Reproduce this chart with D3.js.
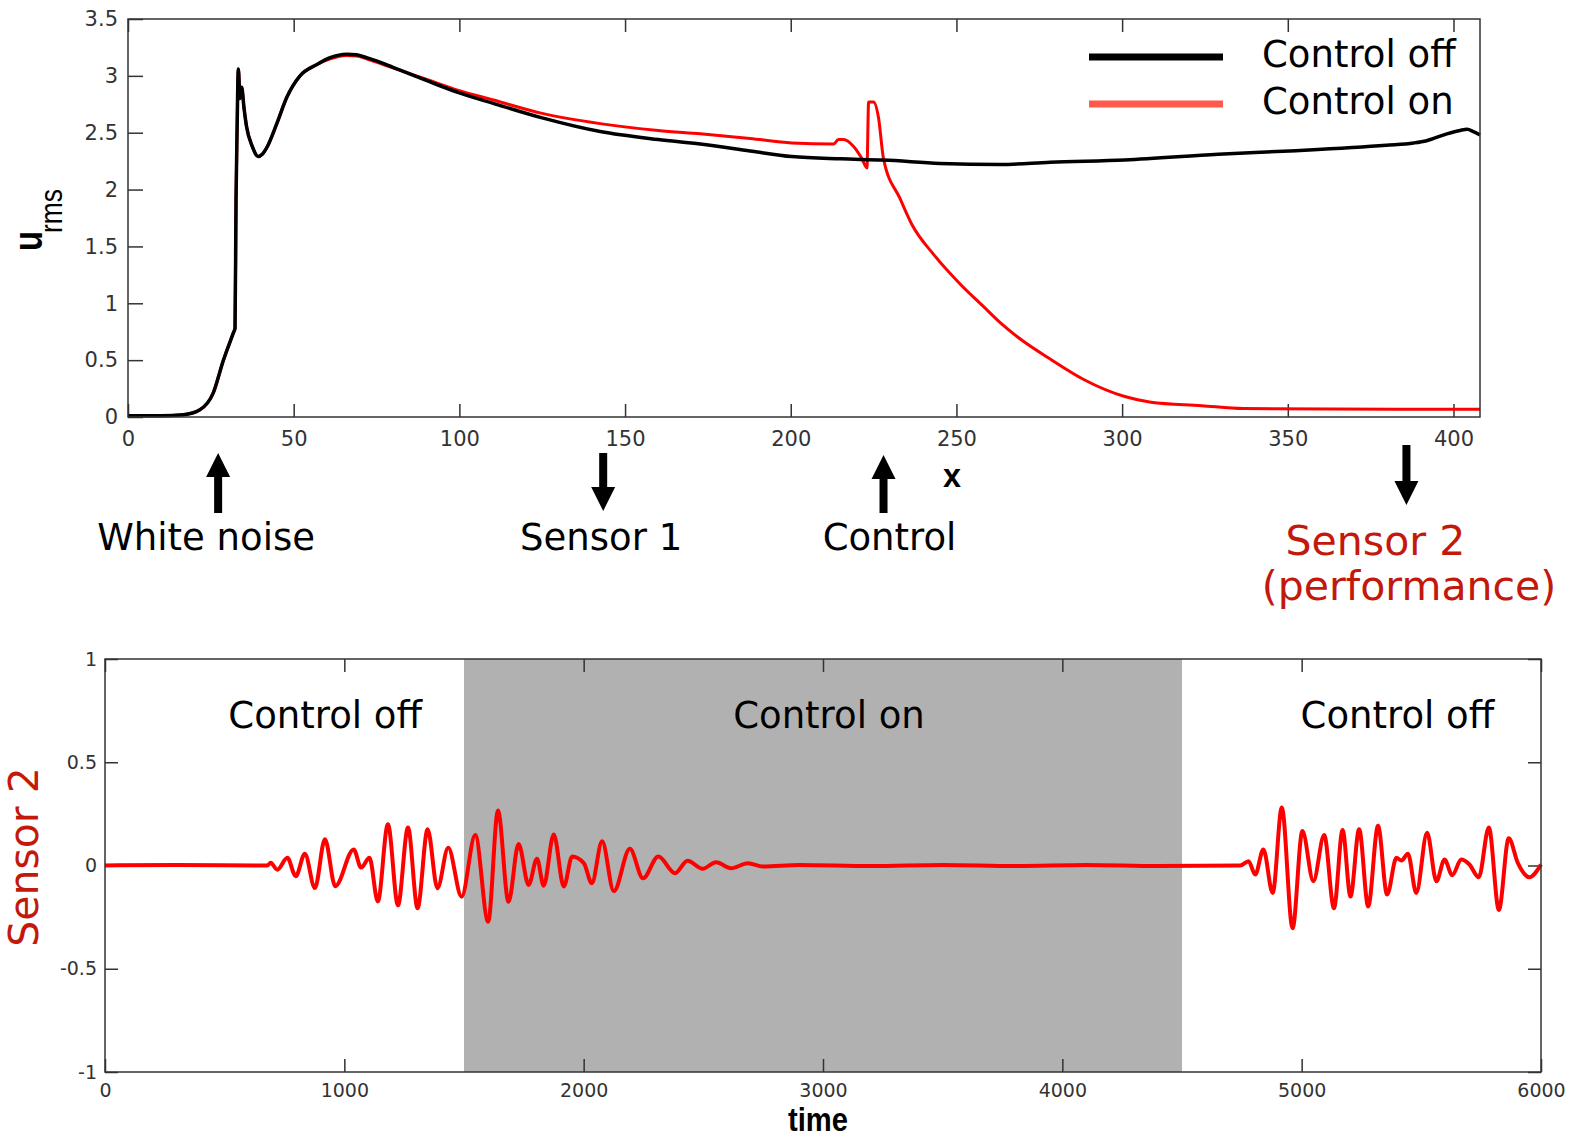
<!DOCTYPE html>
<html>
<head>
<meta charset="utf-8">
<script src="https://cdn.jsdelivr.net/npm/d3@7"></script>
<style>
	body { margin:0; background:#fff; }
	svg { display:block; }
</style>
</head>
<body>
<script>
// data //{{{
// top panel: u_rms along x, [x, u_rms]
var controlOff = [[0,0.01],[10,0.01],[16.7,0.02],[21.7,0.064],[25.7,0.21],[28.8,0.5],[31.8,0.74],[32.3,0.78],[32.6,1.91],[32.9,2.49],[33.3,3.06],[33.8,2.8],[34.3,2.9],[35.0,2.72],[35.8,2.55],[37.5,2.38],[39.3,2.29],[40.5,2.31],[41.9,2.37],[44.9,2.58],[47.9,2.81],[51.9,3.0],[57,3.1],[61,3.16],[66,3.19],[69,3.185],[72,3.16],[77,3.11],[82.1,3.05],[90,2.96],[100,2.85],[110,2.76],[125,2.63],[142.5,2.51],[160,2.44],[172.7,2.4],[187.7,2.34],[200.3,2.29],[215,2.27],[228,2.26],[245,2.23],[263.2,2.22],[278.3,2.24],[300.8,2.26],[329,2.31],[350.6,2.34],[379.7,2.39],[388,2.41],[391.9,2.43],[398,2.49],[402,2.52],[404.1,2.53],[406,2.51],[408,2.48]];
var controlOn = [[0,0.01],[10,0.01],[16.7,0.02],[21.7,0.064],[25.7,0.21],[28.8,0.5],[31.8,0.74],[32.3,0.78],[32.6,1.91],[32.9,2.49],[33.3,3.06],[33.8,2.8],[34.3,2.9],[35.0,2.72],[35.8,2.55],[37.5,2.38],[39.3,2.29],[40.5,2.31],[41.9,2.37],[44.9,2.58],[47.9,2.81],[51.9,3.0],[57,3.1],[61,3.15],[66,3.18],[69,3.175],[72,3.15],[77,3.1],[82.1,3.05],[90,2.97],[100,2.87],[110,2.79],[125,2.67],[142.5,2.58],[160,2.52],[172.7,2.49],[187.7,2.45],[200.3,2.41],[212.9,2.40],[214.4,2.44],[216,2.44],[218.9,2.38],[221.5,2.27],[223,2.19],[223.5,2.77],[225,2.77],[226.5,2.63],[228,2.27],[233,1.92],[236.6,1.69],[243.1,1.43],[251.1,1.17],[258.2,0.97],[263.2,0.83],[270,0.67],[278.3,0.51],[288.4,0.33],[300.8,0.18],[308.7,0.13],[324,0.1],[336.6,0.074],[408,0.068]];
var topXTicks = [0,50,100,150,200,250,300,350,400];
var topYTicks = [0,0.5,1,1.5,2,2.5,3,3.5];
var seriesNames = ["Control off", "Control on"];

// arrows under the top panel: position along x
var markerNames = ["White noise", "Sensor 1", "Control", "Sensor 2"];
var markerX = [27.2, 143.4, 228, 385.8];

// bottom panel: sensor 2 signal, [time, value]
var sensor2 = [[0,0],[300,0.003],[678,0],[692,0.013],[720,-0.02],[762,0.037],[797,-0.052],[835,0.057],[877,-0.109],[919,0.127],[962,-0.10],[1039,0.078],[1070,-0.01],[1105,0.037],[1140,-0.174],[1182,0.2],[1224,-0.193],[1266,0.184],[1306,-0.207],[1348,0.176],[1389,-0.11],[1434,0.086],[1490,-0.151],[1547,0.148],[1601,-0.272],[1642,0.266],[1686,-0.176],[1728,0.104],[1770,-0.094],[1805,0.033],[1833,-0.098],[1875,0.15],[1917,-0.102],[1952,0.044],[2001,0.011],[2034,-0.086],[2077,0.117],[2126,-0.124],[2193,0.081],[2248,-0.062],[2312,0.044],[2382,-0.037],[2434,0.023],[2497,-0.016],[2553,0.016],[2616,-0.013],[2686,0.011],[2749,-0.005],[2900,0.002],[3200,-0.003],[3500,0.002],[3800,-0.003],[4100,0.002],[4400,-0.003],[4743,0],[4778,0.021],[4806,-0.044],[4840,0.078],[4879,-0.133],[4917,0.281],[4962,-0.304],[5003,0.167],[5049,-0.076],[5094,0.148],[5135,-0.207],[5171,0.172],[5204,-0.15],[5240,0.176],[5278,-0.198],[5319,0.192],[5357,-0.141],[5396,0.037],[5417,0.024],[5444,0.057],[5479,-0.133],[5524,0.159],[5563,-0.076],[5597,0.029],[5629,-0.047],[5667,0.029],[5701,0.005],[5740,-0.057],[5782,0.184],[5824,-0.215],[5865,0.132],[5903,0.013],[5951,-0.057],[6000,0.005]];
var controlOnPeriod = [1500, 4500];
var phaseNames = ["Control off", "Control on", "Control off"];
var phaseTime = [920, 3025, 5400];
var botXTicks = [0,1000,2000,3000,4000,5000,6000];
var botYTicks = [-1,-0.5,0,0.5,1];
//}}}

var W = 1577, H = 1141;
var red = "#ff0000", darkred = "#c3190c", ink = "#333";
var svg = d3.select('body').append('svg').attr("width", W).attr("height", H);

var p1 = {left:128, top:19, right:1480, bottom:417};
var p2 = {left:105, top:659, right:1541, bottom:1072};
var fmt = d => String(d);

function style_axis(g, size) {
	g.select('.domain').remove();
	g.attr("font-family", "DejaVu Sans, sans-serif").attr("font-size", size).attr("color", ink);
	g.selectAll('.tick line').attr("stroke-width", 1.5);
}

// top panel //{{{
var x1 = d3.scaleLinear().domain([0, 408]).range([p1.left, p1.right]);
var y1 = d3.scaleLinear().domain([0, 3.5]).range([p1.bottom, p1.top]);

svg.append("g").attr("transform", "translate(0,"+p1.bottom+")")
	.call(d3.axisBottom(x1).tickValues(topXTicks).tickSize(-13).tickPadding(14).tickFormat(fmt))
	.call(style_axis, 21);
svg.append("g").attr("transform", "translate(0,"+p1.top+")")
	.call(d3.axisTop(x1).tickValues(topXTicks).tickSize(-13).tickFormat(""))
	.call(style_axis, 21);
svg.append("g").attr("transform", "translate("+p1.left+",0)")
	.call(d3.axisLeft(y1).tickValues(topYTicks).tickSize(-15).tickPadding(10).tickFormat(fmt))
	.call(style_axis, 21);

var line1 = d3.line().x(d => x1(d[0])).y(d => y1(d[1])).curve(d3.curveMonotoneX);
svg.append("path").datum(controlOn).attr("d", line1)
	.attr("fill", "none").attr("stroke", red).attr("stroke-width", 3);
svg.append("path").datum(controlOff).attr("d", line1)
	.attr("fill", "none").attr("stroke", "#000").attr("stroke-width", 3.5);

svg.append("rect").attr("x", p1.left).attr("y", p1.top)
	.attr("width", p1.right-p1.left).attr("height", p1.bottom-p1.top)
	.attr("fill", "none").attr("stroke", ink).attr("stroke-width", 1.5);

// legend
var legColors = ["#000", "#ff5a4a"];
seriesNames.forEach(function(name, i) {
	var yy = 57 + i*47;
	svg.append("line").attr("x1", 1089).attr("x2", 1223).attr("y1", yy).attr("y2", yy)
		.attr("stroke", legColors[i]).attr("stroke-width", 7);
	svg.append("text").attr("x", 1262).attr("y", yy+10).text(name)
		.attr("font-family", "DejaVu Sans, sans-serif").attr("font-size", 37).attr("fill", "#000");
});

// axis labels, narrow bold
svg.append("text").attr("transform", "translate(42,251) rotate(-90)")
	.attr("font-family", "Liberation Sans, sans-serif").attr("font-size", 40).attr("font-weight", "bold")
	.attr("textLength", 20).attr("lengthAdjust", "spacingAndGlyphs")
	.text("u");
svg.append("text").attr("transform", "translate(62,233) rotate(-90)")
	.attr("font-family", "Liberation Sans, sans-serif").attr("font-size", 31)
	.attr("textLength", 44).attr("lengthAdjust", "spacingAndGlyphs")
	.text("rms");
svg.append("text").attr("x", 952).attr("y", 487).attr("text-anchor", "middle")
	.attr("font-family", "Liberation Sans, sans-serif").attr("font-size", 34).attr("font-weight", "bold")
	.attr("textLength", 18).attr("lengthAdjust", "spacingAndGlyphs")
	.text("x");
//}}}
// arrows and markers //{{{
function arrow(x, yTail, yTip) {
	var s = yTip < yTail ? 1 : -1;   // up or down
	var hb = yTip + s*24;
	return "M"+(x-4)+","+yTail+" L"+(x-4)+","+hb+" L"+(x-12)+","+hb+" L"+x+","+yTip+
		" L"+(x+12)+","+hb+" L"+(x+4)+","+hb+" L"+(x+4)+","+yTail+" Z";
}
var markerTail = [513, 453, 513, 445];
var markerTip = [453, 511, 455, 505];
var markerDx = [-12, -2, 6, -31];
markerNames.forEach(function(name, i) {
	var xx = x1(markerX[i]);
	svg.append("path").attr("d", arrow(xx, markerTail[i], markerTip[i])).attr("fill", "#000");
	var isS2 = name == "Sensor 2";
	svg.append("text").attr("x", xx + markerDx[i]).attr("y", isS2 ? 555 : 550)
		.attr("text-anchor", "middle").text(name)
		.attr("font-family", "DejaVu Sans, sans-serif").attr("font-size", isS2 ? 41 : 37)
		.attr("fill", isS2 ? darkred : "#000");
});
svg.append("text").attr("x", 1409).attr("y", 600).attr("text-anchor", "middle")
	.text("(performance)")
	.attr("font-family", "DejaVu Sans, sans-serif").attr("font-size", 41).attr("fill", darkred);
//}}}
// bottom panel //{{{
var x2 = d3.scaleLinear().domain([0, 6000]).range([p2.left, p2.right]);
var y2 = d3.scaleLinear().domain([-1, 1]).range([p2.bottom, p2.top]);

svg.append("rect").attr("x", x2(controlOnPeriod[0])).attr("y", p2.top)
	.attr("width", x2(controlOnPeriod[1]) - x2(controlOnPeriod[0])).attr("height", p2.bottom-p2.top)
	.attr("fill", "#b1b1b1");

svg.append("g").attr("transform", "translate(0,"+p2.bottom+")")
	.call(d3.axisBottom(x2).tickValues(botXTicks).tickSize(-13).tickPadding(12).tickFormat(fmt))
	.call(style_axis, 19);
svg.append("g").attr("transform", "translate(0,"+p2.top+")")
	.call(d3.axisTop(x2).tickValues(botXTicks).tickSize(-13).tickFormat(""))
	.call(style_axis, 19);
svg.append("g").attr("transform", "translate("+p2.left+",0)")
	.call(d3.axisLeft(y2).tickValues(botYTicks).tickSize(-13).tickPadding(8).tickFormat(fmt))
	.call(style_axis, 19);
svg.append("g").attr("transform", "translate("+p2.right+",0)")
	.call(d3.axisRight(y2).tickValues(botYTicks).tickSize(-13).tickFormat(""))
	.call(style_axis, 19);

var line2 = d3.line().x(d => x2(d[0])).y(d => y2(d[1])).curve(d3.curveMonotoneX);
svg.append("path").datum(sensor2).attr("d", line2)
	.attr("fill", "none").attr("stroke", red).attr("stroke-width", 4).attr("stroke-linejoin", "round");

svg.append("rect").attr("x", p2.left).attr("y", p2.top)
	.attr("width", p2.right-p2.left).attr("height", p2.bottom-p2.top)
	.attr("fill", "none").attr("stroke", ink).attr("stroke-width", 1.5);

phaseNames.forEach(function(name, i) {
	svg.append("text").attr("x", x2(phaseTime[i])).attr("y", 728).attr("text-anchor", "middle")
		.text(name).attr("font-family", "DejaVu Sans, sans-serif").attr("font-size", 37).attr("fill", "#000");
});

svg.append("text").attr("transform", "translate(38,857) rotate(-90)").attr("text-anchor", "middle")
	.text("Sensor 2").attr("font-family", "DejaVu Sans, sans-serif").attr("font-size", 41).attr("fill", darkred);
svg.append("text").attr("x", 818).attr("y", 1131).attr("text-anchor", "middle")
	.attr("font-family", "Liberation Sans, sans-serif").attr("font-size", 34).attr("font-weight", "bold")
	.attr("textLength", 60).attr("lengthAdjust", "spacingAndGlyphs")
	.text("time");
//}}}
</script>
</body>
</html>
